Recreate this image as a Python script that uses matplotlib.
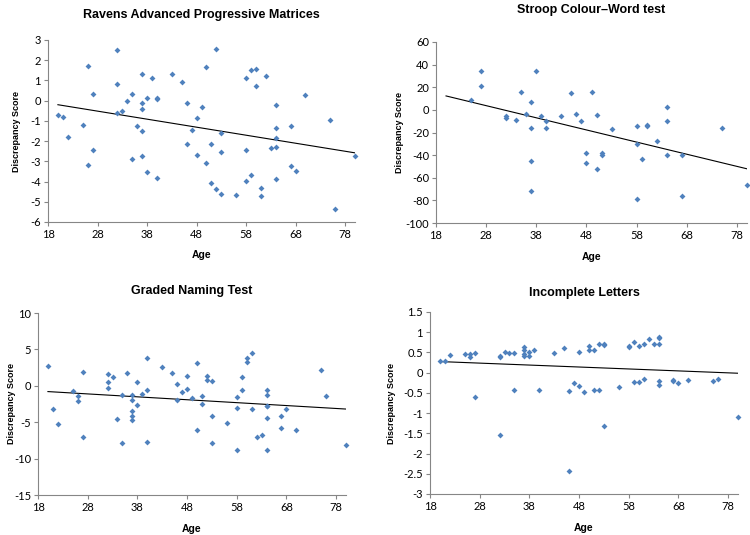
import numpy as np
import matplotlib
matplotlib.use("Agg")
import matplotlib.pyplot as plt

plt.rcParams["axes.unicode_minus"] = False

# Ravens Advanced Progressive Matrices
ravens_age = [20, 21, 22, 25, 26, 26, 27, 27, 32, 32, 32, 33, 34, 35, 35, 36, 37, 37, 37, 37, 37,
              38, 38, 39, 40, 40, 40, 43, 45, 46, 46, 47, 48, 48, 49, 50, 50, 51, 51, 52, 52,
              53, 53, 53, 56, 58, 58, 58, 59, 59, 60, 60, 61, 61, 62, 63, 64, 64, 64, 64, 64,
              67, 67, 68, 70, 75, 76, 80]
ravens_score = [-0.7, -0.82, -1.82, -1.2, 1.7, -3.2, 0.35, -2.43, 2.5, 0.8, -0.6, -0.5, 0.0, 0.35, -2.86,
                -1.26, 1.33, -0.1, -0.41, -1.5, -2.76, 0.15, -3.52, 1.1, 0.13, 0.1, -3.84, 1.33, 0.93,
                -0.1, -2.12, -1.44, -0.84, -2.7, -0.33, 1.67, -3.06, -2.15, -4.09, 2.57, -4.38,
                -1.62, -2.56, -4.6, -4.68, 1.1, -2.46, -3.97, 1.53, -3.69, 1.58, 0.73, -4.32, -4.73,
                1.21, -2.36, -0.2, -1.34, -1.87, -2.28, -3.85, -1.27, -3.22, -3.5, 0.28, -0.96,
                -5.38, -2.76]

# Stroop Colour-Word test
stroop_age = [25, 27, 27, 32, 32, 34, 35, 36, 37, 37, 37, 37, 38, 39, 40, 40, 43, 45, 46, 47, 48, 48,
              49, 50, 50, 51, 51, 53, 58, 58, 58, 59, 60, 60, 62, 64, 64, 64, 67, 67, 75, 80]
stroop_score = [9, 34, 21, -5, -7, -9, 15.5, -3.5, 7, -16, -45.5, -72, 34, -5, -9.5, -15.7, -5.4, 15,
                -3.6, -9.8, -38.4, -46.7, 15.5, -4.8, -52, -38.4, -40, -17, -14, -30, -78.5, -43,
                -13.4, -14.5, -27.5, 2.3, -9.8, -40, -40, -76.4, -15.7, -66.4]

# Graded Naming Test
gnt_age = [20, 21, 22, 25, 26, 26, 27, 27, 32, 32, 32, 33, 34, 35, 35, 36, 37, 37, 37, 37, 37, 38, 38,
           39, 40, 40, 40, 43, 45, 46, 46, 47, 48, 48, 49, 50, 50, 51, 51, 52, 52, 53, 53, 53, 56,
           58, 58, 58, 59, 59, 60, 60, 61, 61, 62, 63, 64, 64, 64, 64, 64, 64, 67, 67, 68, 70, 75,
           76, 80]
gnt_score = [2.72, -3.14, -5.25, -0.67, -1.36, -2.09, 1.9, -7.0, 1.6, 0.5, -0.26, 1.16, -4.5, -1.2, -7.8,
             1.7, -1.2, -2.0, -3.46, -4.1, -4.74, 0.5, -2.68, -1.08, 3.86, -0.53, -7.72, 2.63, 1.8,
             0.2, -2.0, -0.8, 1.3, -0.44, -1.68, 3.18, -6.07, -1.45, -2.5, 1.3, 0.84, 0.7, -4.2,
             -7.86, -5.16, -1.5, -3.05, -8.82, 1.2, -0.53, 3.8, 3.27, 4.46, -3.23, -7.08, -6.8,
             -0.62, -1.26, -2.73, -2.82, -4.47, -8.77, -4.1, -5.75, -3.23, -6.07, 2.22, -1.36, -8.18]

# Incomplete Letters
il_age = [20, 21, 22, 25, 26, 26, 27, 27, 32, 32, 32, 33, 34, 35, 35, 37, 37, 37, 37, 38, 38, 39, 40,
          43, 45, 46, 46, 47, 48, 48, 49, 50, 50, 51, 51, 52, 52, 53, 53, 53, 56, 58, 58, 59, 59,
          60, 60, 61, 61, 62, 63, 64, 64, 64, 64, 64, 67, 67, 68, 70, 75, 76, 80]
il_score = [0.30, 0.29, 0.43, 0.47, 0.47, 0.39, 0.48, -0.61, 0.41, 0.38, -1.55, 0.5, 0.48, 0.48, -0.42,
            0.63, 0.55, 0.47, 0.42, 0.5, 0.42, 0.57, -0.43, 0.48, 0.61, -0.45, -2.44, -0.26, 0.5,
            -0.33, -0.47, 0.66, 0.56, 0.56, -0.42, 0.71, -0.42, 0.71, 0.69, -1.31, -0.35, 0.67,
            0.64, 0.76, -0.23, 0.66, -0.24, 0.71, -0.15, 0.83, 0.71, 0.89, 0.86, 0.72, -0.2, -0.31,
            -0.17, -0.2, -0.26, -0.19, -0.21, -0.15, -1.1]

# trend lines are drawn over the full age range of the study
trend_ages = [20, 80]

panels = [
    ("Ravens Advanced Progressive Matrices", ravens_age, ravens_score, (-6, 3), np.arange(-6, 4, 1)),
    ("Stroop Colour\u2013Word test", stroop_age, stroop_score, (-100, 60), np.arange(-100, 61, 20)),
    ("Graded Naming Test", gnt_age, gnt_score, (-15, 10), np.arange(-15, 11, 5)),
    ("Incomplete Letters", il_age, il_score, (-3, 1.5), np.arange(-3, 1.51, 0.5)),
]

# axes boxes in pixels: left, top, right, bottom
boxes = [(48, 40, 355, 222), (436, 42, 747, 223), (38, 313, 346, 495), (430, 312, 738, 494)]
title_y = [15, 10, 291, 293]
xlabel_y = [255, 257, 529, 528]
ylabel_x = [17, 399, 12, 391]

W, H = 750, 535
fig = plt.figure(figsize=(W / 100, H / 100), dpi=100)

tick_font = "Lato"
bold_font = "Liberation Sans"
blue = "#4F81BD"
grey = "#868686"

for i, (title, age, score, ylim, yticks) in enumerate(panels):
    l, t, r, b = boxes[i]
    ax = fig.add_axes([l / W, 1 - b / H, (r - l) / W, (b - t) / H])
    ax.scatter(age, score, marker="D", s=9, color=blue, linewidths=0, zorder=3, clip_on=False)

    # linear trend line
    coef = np.polyfit(age, score, 1)
    xs = np.array(trend_ages)
    ax.plot(xs, np.polyval(coef, xs), color="black", lw=0.8, zorder=2)

    ax.set_xlim(18, 80)
    ax.set_xticks(np.arange(18, 80, 10))
    ax.set_ylim(*ylim)
    ax.set_yticks(yticks)
    ax.set_yticklabels([("%g" % v) for v in yticks])
    for s in ["top", "right"]:
        ax.spines[s].set_visible(False)
    for s in ["left", "bottom"]:
        ax.spines[s].set_color(grey)
        ax.spines[s].set_linewidth(0.8)
    ax.tick_params(axis="both", direction="out", length=3, width=0.8, color=grey,
                   labelsize=8, pad=2)
    for lab in ax.get_xticklabels() + ax.get_yticklabels():
        lab.set_fontfamily(tick_font)

    fig.text((l + r) / 2 / W, 1 - title_y[i] / H, title, ha="center", va="center",
             fontsize=9, fontweight="bold", family=bold_font)
    fig.text((l + r) / 2 / W, 1 - xlabel_y[i] / H, "Age", ha="center", va="center",
             fontsize=7.5, fontweight="bold", family=bold_font)
    fig.text(ylabel_x[i] / W, 1 - (t + b) / 2 / H, "Discrepancy Score", ha="center", va="center",
             rotation=90, fontsize=6.5, fontweight="bold", family=bold_font)

fig.savefig("out.png", dpi=100)
